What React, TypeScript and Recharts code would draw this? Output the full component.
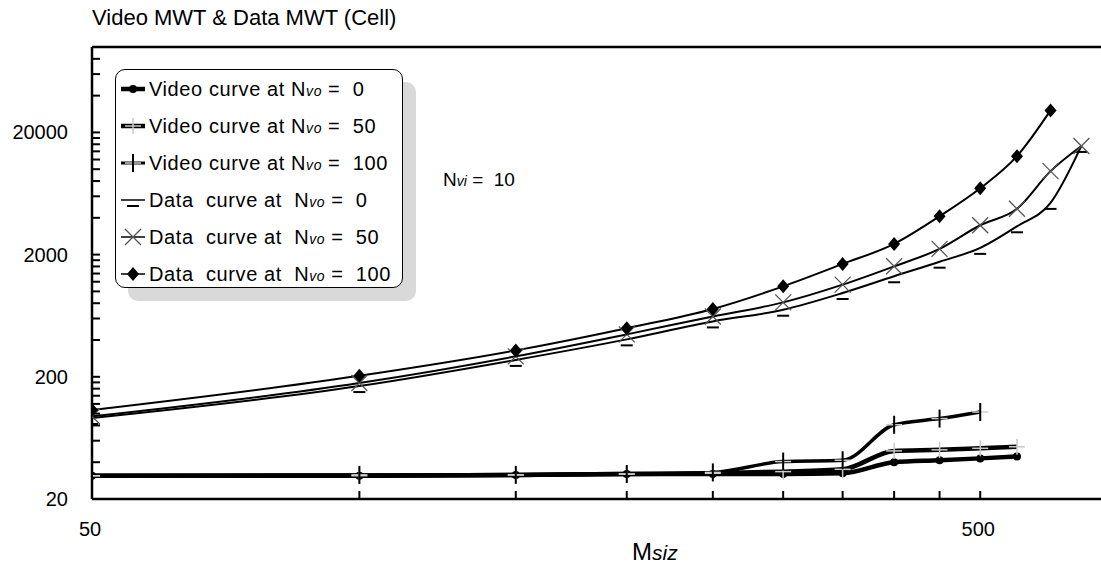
import React from 'react';
import { LineChart, Line, XAxis, YAxis, ReferenceLine } from 'recharts';

// M_siz values (x) and the six curves
const M_SIZ = [50, 100, 150, 200, 250, 300, 350, 400, 450, 500, 550, 600, 650];
const VIDEO_N0 = [31, 31, 31.5, 32, 32, 32, 32.5, 40, 41.5, 43, 44.5, null, null];
const VIDEO_N50 = [31, 31, 31.5, 32, 32.5, 33.5, 35, 49.5, 50.5, 52, 53.5, null, null];
const VIDEO_N100 = [31, 31.5, 31.5, 32, 33, 40.5, 41.5, 81, 91, 103, null, null, null];
const DATA_N0 = [92, 168, 275, 405, 568, 708, 970, 1330, 1750, 2270, 3410, 5300, 15500];
const DATA_N50 = [95, 178, 294, 445, 624, 813, 1136, 1604, 2228, 3478, 4740, 9640, 15500];
const DATA_N100 = [107, 204, 329, 500, 718, 1100, 1678, 2448, 4120, 6980, 12780, 30280, null];

const X_TICKS = [50, 100, 150, 200, 250, 300, 350, 400, 450, 500];
const X_LABELS = [50, 500];
const Y_TICKS = [
  20, 40, 60, 80, 100, 120, 140, 160, 180, 200, 400, 600, 800, 1000, 1200, 1400, 1600, 1800,
  2000, 4000, 6000, 8000, 10000, 12000, 14000, 16000, 18000, 20000, 40000, 60000, 80000, 100000,
];
const Y_LABELS = [20, 200, 2000, 20000];

const rows = M_SIZ.map((m, i) => ({
  m,
  v0: VIDEO_N0[i],
  v50: VIDEO_N50[i],
  v100: VIDEO_N100[i],
  d0: DATA_N0[i],
  d50: DATA_N50[i],
  d100: DATA_N100[i],
}));

const FONT = '"Liberation Sans", Arial, Helvetica, sans-serif';

type P = { cx?: number; cy?: number; index?: number };

const circleMark = (cx: number, cy: number) => <circle cx={cx} cy={cy} r={4} fill="#000" />;
const grayPlusMark = (cx: number, cy: number) => (
  <g stroke="#c8c8c8" strokeWidth={1.5}>
    <line x1={cx - 8} x2={cx + 8} y1={cy} y2={cy} />
    <line x1={cx} x2={cx} y1={cy - 8} y2={cy + 8} />
  </g>
);
const tickMark = (cx: number, cy: number) => (
  <g>
    <line x1={cx - 8} x2={cx + 8} y1={cy} y2={cy} stroke="#cfcfcf" strokeWidth={1.5} />
    <line x1={cx} x2={cx} y1={cy - 9} y2={cy + 9} stroke="#000" strokeWidth={2} />
  </g>
);
const dashMark = (cx: number, cy: number) => (
  <line x1={cx - 6} x2={cx + 6} y1={cy + 6} y2={cy + 6} stroke="#000" strokeWidth={2} />
);
const crossMark = (cx: number, cy: number) => (
  <g stroke="#555" strokeWidth={1.3}>
    <line x1={cx - 8} x2={cx + 8} y1={cy - 8} y2={cy + 8} />
    <line x1={cx - 8} x2={cx + 8} y1={cy + 8} y2={cy - 8} />
  </g>
);
const diamondMark = (cx: number, cy: number) => (
  <polygon points={`${cx},${cy - 7} ${cx + 6},${cy} ${cx},${cy + 7} ${cx - 6},${cy}`} fill="#000" />
);

const dotOf = (mark: (cx: number, cy: number) => React.ReactNode, name: string) => (p: P) => {
  if (p.cx == null || p.cy == null || Number.isNaN(p.cy)) return <g key={`${name}-${p.index}`} />;
  return <g key={`${name}-${p.index}`}>{mark(p.cx, p.cy)}</g>;
};

const YTick = (props: any) => {
  const { x, y, payload } = props;
  const v = payload.value;
  return (
    <g>
      <line x1={x} x2={x + 8} y1={y} y2={y} stroke="#000" strokeWidth={2} />
      {Y_LABELS.includes(v) && (
        <text x={x - 24} y={y + 7} textAnchor="end" fontSize={20} fontFamily={FONT} fill="#000">
          {v}
        </text>
      )}
    </g>
  );
};

const XTick = (props: any) => {
  const { x, y, payload } = props;
  const v = payload.value;
  return (
    <g>
      <line x1={x} x2={x} y1={y} y2={y - 8} stroke="#000" strokeWidth={2} />
      {X_LABELS.includes(v) && (
        <text x={x - 2} y={y + 37} textAnchor="middle" fontSize={20} fontFamily={FONT} fill="#000">
          {v}
        </text>
      )}
    </g>
  );
};

const legendItems = [
  { pre: 'Video curve at ', post: '=  0', w: 4.5, mark: circleMark },
  { pre: 'Video curve at ', post: '=  50', w: 4.5, mark: grayPlusMark },
  { pre: 'Video curve at ', post: '=  100', w: 3, mark: tickMark },
  { pre: 'Data  curve at  ', post: '=  0', w: 1.5, mark: dashMark },
  { pre: 'Data  curve at  ', post: '=  50', w: 1.5, mark: crossMark },
  { pre: 'Data  curve at  ', post: '=  100', w: 1.5, mark: diamondMark },
];

const App: React.FC = () => {
  return (
    <div
      style={{
        position: 'absolute',
        left: 0,
        top: 0,
        width: 1101,
        height: 570,
        overflow: 'hidden',
        background: '#fff',
        fontFamily: FONT,
        color: '#000',
      }}
    >
      <div style={{ position: 'absolute', left: 92, top: 5, fontSize: 22, lineHeight: '26px', whiteSpace: 'nowrap' }}>
        Video MWT &amp; Data MWT (Cell)
      </div>

      <LineChart width={1110} height={570} data={rows} margin={{ top: 47, right: 0, bottom: 41, left: 32 }}>
        <XAxis
          dataKey="m"
          type="number"
          scale="log"
          domain={[50, 700]}
          allowDataOverflow
          ticks={X_TICKS}
          interval={0}
          tickSize={0}
          tickMargin={0}
          tick={<XTick />}
          axisLine={{ stroke: '#000', strokeWidth: 2.5 }}
          height={30}
        />
        <YAxis
          type="number"
          scale="log"
          domain={[20, 100000]}
          allowDataOverflow
          ticks={Y_TICKS}
          interval={0}
          tickSize={0}
          tickMargin={0}
          tick={<YTick />}
          axisLine={{ stroke: '#000', strokeWidth: 2.5 }}
          width={60}
        />
        <ReferenceLine y={100000} stroke="#000" strokeWidth={2.5} ifOverflow="visible" />

        <Line type="monotone" dataKey="v0" stroke="#000" strokeWidth={4.5} dot={dotOf(circleMark, 'v0')} isAnimationActive={false} />
        <Line type="monotone" dataKey="v50" stroke="#000" strokeWidth={4.5} dot={dotOf(grayPlusMark, 'v50')} isAnimationActive={false} />
        <Line type="monotone" dataKey="v100" stroke="#000" strokeWidth={3.5} dot={dotOf(tickMark, 'v100')} isAnimationActive={false} />
        <Line type="monotone" dataKey="d0" stroke="#000" strokeWidth={2} dot={dotOf(dashMark, 'd0')} isAnimationActive={false} />
        <Line type="monotone" dataKey="d50" stroke="#000" strokeWidth={2} dot={dotOf(crossMark, 'd50')} isAnimationActive={false} />
        <Line type="monotone" dataKey="d100" stroke="#000" strokeWidth={2} dot={dotOf(diamondMark, 'd100')} isAnimationActive={false} />
      </LineChart>

      {/* legend box with drop shadow */}
      <div
        style={{
          position: 'absolute',
          left: 115,
          top: 69,
          width: 286,
          height: 217,
          border: '1.5px solid #000',
          borderRadius: 10,
          background: '#fff',
          boxShadow: '13px 13px 0 #d9d9d9',
        }}
      >
        {legendItems.map((it, i) => (
          <div
            key={i}
            style={{
              position: 'absolute',
              left: 3,
              top: 2 + i * 37,
              height: 34,
              display: 'flex',
              alignItems: 'center',
              whiteSpace: 'pre',
              fontSize: 20,
              letterSpacing: 0.6,
            }}
          >
            <svg width={28} height={30} style={{ marginRight: 2 }}>
              <line x1={2} x2={26} y1={15} y2={15} stroke="#000" strokeWidth={it.w} />
              {it.mark(14, 15)}
            </svg>
            <span>{it.pre}N</span>
            <span style={{ fontStyle: 'italic', fontSize: 14, marginRight: 6, marginTop: 3 }}>vo</span>
            <span>{it.post}</span>
          </div>
        ))}
      </div>

      <div style={{ position: 'absolute', left: 443, top: 169, fontSize: 19, whiteSpace: 'pre' }}>
        N<span style={{ fontStyle: 'italic', fontSize: 14 }}>vi</span>{' =  10'}
      </div>

      <div style={{ position: 'absolute', left: 632, top: 538, fontSize: 24, whiteSpace: 'pre' }}>
        M<span style={{ fontStyle: 'italic', fontSize: 21 }}>siz</span>
      </div>
    </div>
  );
};

export default App;
